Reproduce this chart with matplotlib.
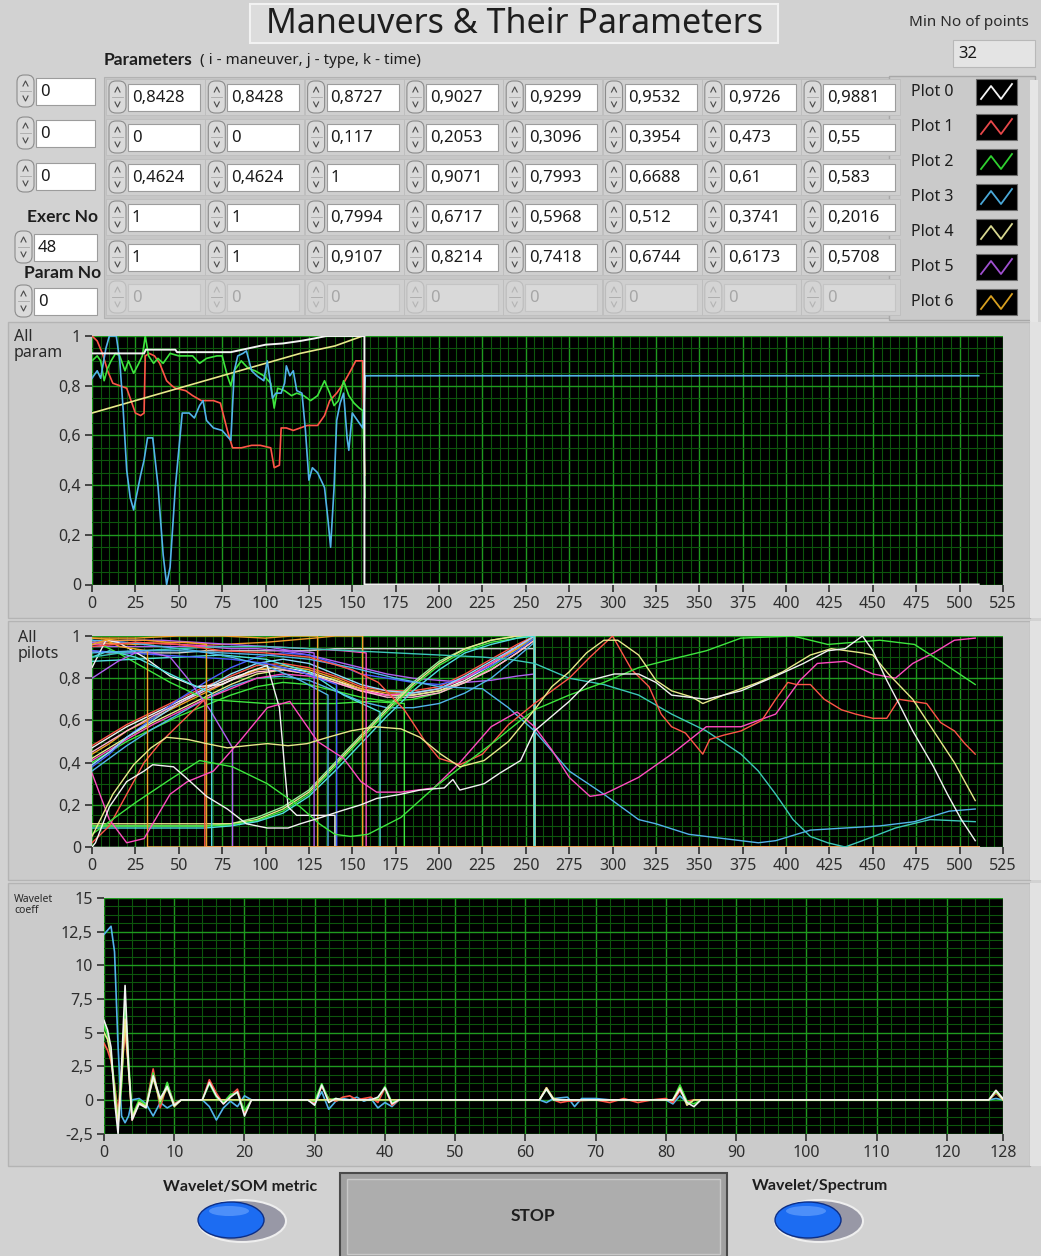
import matplotlib
matplotlib.use("Agg")
import matplotlib.pyplot as plt
from matplotlib.patches import Rectangle, FancyBboxPatch, Ellipse
from matplotlib.ticker import MultipleLocator, FixedLocator, FuncFormatter

W, H = 1041, 1256
plt.rcParams['font.family'] = ['Noto Sans', 'DejaVu Sans']
BOLD = dict(family=['Lato', 'DejaVu Sans'], fontweight='bold')

# ---------------- front-panel values ----------------
title_text = "Maneuvers & Their Parameters"
index_values = [0, 0, 0]
exerc_no = 48
param_no = 0
min_points = 32

param_row0 = [0.8428, 0.8428, 0.8727, 0.9027, 0.9299, 0.9532, 0.9726, 0.9881]
param_row1 = [0, 0, 0.117, 0.2053, 0.3096, 0.3954, 0.473, 0.55]
param_row2 = [0.4624, 0.4624, 1, 0.9071, 0.7993, 0.6688, 0.61, 0.583]
param_row3 = [1, 1, 0.7994, 0.6717, 0.5968, 0.512, 0.3741, 0.2016]
param_row4 = [1, 1, 0.9107, 0.8214, 0.7418, 0.6744, 0.6173, 0.5708]
param_row5 = [0, 0, 0, 0, 0, 0, 0, 0]

legend_names = ["Plot 0", "Plot 1", "Plot 2", "Plot 3", "Plot 4", "Plot 5", "Plot 6"]
legend_colors = ["#f4f4f4", "#e8484a", "#2fd02f", "#4aa8d8", "#d8d890", "#a050d0", "#d8a020"]

# ---------------- graph 1: all parameters of one exercise ----------------
p0_t = [0, 30, 31, 48, 49, 80, 90, 100, 110, 120, 128, 135, 156, 157, 157, 511]
p0_v = [0.93, 0.93, 0.945, 0.945, 0.935, 0.935, 0.95, 0.965, 0.97, 0.98, 0.99, 1.0, 1.0, 1.0, 0.0, 0.0]

p1_t = [0, 3, 6, 9, 12, 16, 20, 23, 25, 28, 30, 30.7, 33, 36, 39, 43, 46, 48, 54, 58, 63, 70, 74,
        78, 81, 86, 92, 97, 103, 105, 108, 109, 112, 116, 120, 124, 130, 134, 137, 141, 145, 149,
        152, 156, 157, 157.3]
p1_v = [1.0, 0.98, 0.93, 0.86, 0.81, 0.80, 0.79, 0.73, 0.69, 0.68, 0.69, 0.92, 0.93, 0.92, 0.89,
        0.82, 0.80, 0.79, 0.78, 0.76, 0.74, 0.74, 0.73, 0.62, 0.55, 0.55, 0.56, 0.56, 0.55, 0.47,
        0.48, 0.63, 0.63, 0.62, 0.63, 0.64, 0.64, 0.68, 0.74, 0.77, 0.81, 0.86, 0.90, 0.90, 0.49,
        0.44]

p2_t = [0, 3, 5, 7, 9, 11, 13.6, 16, 19, 21, 24, 27, 29, 30.7, 32.6, 35.5, 38, 41, 45, 50, 54,
        58, 62, 66, 72, 75, 78, 80, 82, 86, 90, 94, 99, 103, 105, 107, 111, 115, 118, 122, 126,
        130, 134, 137, 139.5, 142, 145, 148, 151, 154, 156, 157, 157.3]
p2_v = [0.90, 0.92, 0.90, 0.82, 0.87, 0.90, 0.93, 0.92, 0.86, 0.90, 0.85, 0.89, 0.92, 1.0, 0.92,
        0.89, 0.91, 0.89, 0.93, 0.92, 0.92, 0.92, 0.89, 0.91, 0.92, 0.92, 0.84, 0.80, 0.86, 0.90,
        0.87, 0.86, 0.84, 0.81, 0.71, 0.79, 0.78, 0.76, 0.77, 0.76, 0.74, 0.76, 0.82, 0.77, 0.72,
        0.74, 0.82, 0.76, 0.73, 0.71, 0.70, 0.48, 0.35]

p3_t = [0, 3, 5, 8, 10, 14, 16, 18, 20, 22, 24, 26, 28, 30, 32, 35, 38, 41, 43, 45, 48, 52, 56,
        59, 62, 64, 66, 70, 75, 80, 82, 84, 87, 89, 92, 95, 99, 101, 104, 106, 109, 111, 112,
        114, 116, 118, 121, 123, 125, 127, 130, 134, 136, 137.5, 139.5, 141, 143, 145, 147, 148,
        150, 153, 156, 157, 157.5, 511]
p3_v = [0.83, 0.86, 0.83, 0.95, 1.0, 1.0, 0.90, 0.70, 0.46, 0.35, 0.30, 0.37, 0.44, 0.50, 0.59,
        0.59, 0.40, 0.12, 0.0, 0.07, 0.39, 0.69, 0.69, 0.67, 0.72, 0.74, 0.66, 0.63, 0.62, 0.58,
        0.86, 0.92, 0.93, 0.94, 0.86, 0.84, 0.82, 0.90, 0.75, 0.77, 0.77, 0.81, 0.88, 0.84, 0.86,
        0.78, 0.77, 0.62, 0.42, 0.47, 0.45, 0.39, 0.26, 0.15, 0.39, 0.66, 0.73, 0.77, 0.59, 0.54,
        0.69, 0.66, 0.63, 0.75, 0.84, 0.84]

p4_t = [0, 20, 40, 60, 80, 100, 120, 140, 156]
p4_v = [0.69, 0.73, 0.77, 0.81, 0.85, 0.89, 0.93, 0.96, 1.0]

# ---------------- graph 2: all pilots ----------------
# rows of the pilot array are zero padded up to the longest record (512 samples)
n_last = 511

# pilots with a 256-sample manoeuvre: rise, plateau and final climb
t_full = [0, 10, 20, 35, 50, 65, 80, 95, 110, 125, 140, 155, 170, 185, 200, 215, 230, 245, 255]
pilot_a1 = [0.47, 0.52, 0.57, 0.63, 0.69, 0.75, 0.80, 0.84, 0.85, 0.83, 0.79, 0.75, 0.72, 0.72, 0.74, 0.79, 0.86, 0.95, 1.00]
pilot_a2 = [0.48, 0.53, 0.58, 0.64, 0.70, 0.76, 0.81, 0.86, 0.87, 0.85, 0.81, 0.76, 0.74, 0.74, 0.76, 0.82, 0.89, 0.96, 1.00]
pilot_a3 = [0.40, 0.45, 0.50, 0.56, 0.62, 0.67, 0.72, 0.76, 0.78, 0.77, 0.74, 0.71, 0.69, 0.70, 0.73, 0.78, 0.85, 0.94, 0.99]
pilot_a4 = [0.36, 0.42, 0.48, 0.56, 0.63, 0.70, 0.76, 0.80, 0.81, 0.79, 0.74, 0.69, 0.66, 0.66, 0.68, 0.73, 0.80, 0.90, 0.97]
pilot_a5 = [0.42, 0.47, 0.52, 0.59, 0.65, 0.71, 0.77, 0.82, 0.84, 0.82, 0.79, 0.74, 0.72, 0.72, 0.74, 0.78, 0.84, 0.92, 0.98]
pilot_a6 = [0.44, 0.49, 0.55, 0.61, 0.67, 0.73, 0.79, 0.84, 0.86, 0.84, 0.80, 0.75, 0.73, 0.73, 0.75, 0.80, 0.87, 0.94, 1.00]
pilot_a7 = [0.38, 0.44, 0.52, 0.61, 0.70, 0.78, 0.85, 0.90, 0.92, 0.91, 0.87, 0.82, 0.80, 0.78, 0.77, 0.80, 0.86, 0.93, 0.99]
pilot_a8 = [0.41, 0.46, 0.51, 0.58, 0.64, 0.70, 0.75, 0.80, 0.82, 0.81, 0.78, 0.74, 0.72, 0.73, 0.75, 0.80, 0.87, 0.95, 1.00]
pilot_a9 = [0.39, 0.45, 0.52, 0.60, 0.68, 0.75, 0.82, 0.87, 0.89, 0.87, 0.82, 0.77, 0.74, 0.73, 0.75, 0.81, 0.88, 0.95, 1.00]
pilot_a10 = [0.45, 0.50, 0.55, 0.62, 0.68, 0.74, 0.79, 0.83, 0.84, 0.82, 0.78, 0.74, 0.71, 0.71, 0.73, 0.78, 0.84, 0.92, 0.98]
# late-climb pilots (flat start then S-shaped climb)
pilot_c1 = [0.10, 0.10, 0.10, 0.10, 0.10, 0.10, 0.105, 0.125, 0.17, 0.25, 0.38, 0.51, 0.64, 0.76, 0.86, 0.93, 0.97, 0.99, 1.0]
pilot_c2 = [0.09, 0.09, 0.09, 0.09, 0.09, 0.09, 0.10, 0.12, 0.16, 0.24, 0.36, 0.49, 0.62, 0.74, 0.84, 0.92, 0.96, 0.99, 1.0]
pilot_c3 = [0.11, 0.11, 0.11, 0.11, 0.11, 0.11, 0.11, 0.13, 0.18, 0.26, 0.39, 0.52, 0.65, 0.77, 0.87, 0.94, 0.98, 1.0, 1.0]
pilot_c4 = [0.10, 0.10, 0.10, 0.10, 0.10, 0.10, 0.11, 0.14, 0.19, 0.27, 0.40, 0.53, 0.66, 0.78, 0.88, 0.94, 0.98, 1.0, 1.0]
pilot_w255 = [0.93, 0.92, 0.92, 0.92, 0.92, 0.93, 0.93, 0.93, 0.93, 0.93, 0.94, 0.94, 0.94, 0.94, 0.94, 0.94, 0.94, 0.94, 0.94]
pilot_p255 = [0.95, 0.95, 0.95, 0.95, 0.95, 0.95, 0.94, 0.94, 0.93, 0.91, 0.88, 0.85, 0.82, 0.80, 0.79, 0.78, 0.79, 0.81, 0.82]

# short records
s_orange32_t = [0, 8, 16, 24, 32]
s_orange32_v = [0.96, 0.98, 0.95, 0.94, 0.93]
s_red65_t = [0, 10, 20, 30, 40, 50, 65]
s_red65_v = [0.02, 0.10, 0.25, 0.40, 0.50, 0.58, 0.70]
s_orange66_t = [0, 15, 30, 45, 55, 66]
s_orange66_v = [0.99, 0.98, 0.98, 0.97, 0.97, 0.96]
s_cyan69_t = [0, 10, 25, 40, 55, 69]
s_cyan69_v = [0.90, 0.93, 0.90, 0.84, 0.78, 0.73]
s_mag81_t = [0, 15, 25, 30, 45, 55, 68, 81]
s_mag81_v = [0.80, 0.88, 0.92, 0.93, 0.90, 0.80, 0.65, 0.47]
s_white140_t = [0, 8, 15, 30, 45, 60, 75, 90, 101, 108, 113, 118, 140]
s_white140_v = [0.85, 0.98, 0.97, 0.90, 0.81, 0.76, 0.77, 0.83, 0.86, 0.66, 0.19, 0.15, 0.15]
s_violet128_t = [0, 20, 40, 60, 80, 100, 115, 128]
s_violet128_v = [0.97, 0.98, 0.98, 0.97, 0.96, 0.95, 0.93, 0.92]
s_orange130_t = [0, 25, 50, 75, 100, 115, 130]
s_orange130_v = [0.99, 0.99, 1.0, 1.0, 0.99, 1.0, 1.0]
s_cyan136_t = [0, 20, 40, 60, 80, 100, 120, 136]
s_cyan136_v = [0.98, 0.97, 0.95, 0.93, 0.90, 0.86, 0.79, 0.72]
s_blue141_t = [0, 20, 40, 60, 80, 100, 120, 141]
s_blue141_v = [0.93, 0.92, 0.91, 0.90, 0.89, 0.87, 0.83, 0.77]
s_orange156_t = [0, 25, 50, 75, 100, 128, 140, 156]
s_orange156_v = [0.97, 0.96, 0.97, 0.96, 0.97, 0.99, 1.0, 1.0]
s_mag158_t = [0, 25, 50, 75, 100, 125, 145, 158]
s_mag158_v = [0.96, 0.97, 0.96, 0.95, 0.95, 0.94, 0.93, 0.92]
s_cyan166_t = [0, 25, 50, 75, 100, 125, 145, 166]
s_cyan166_v = [0.88, 0.89, 0.90, 0.91, 0.89, 0.83, 0.72, 0.64]
s_green180_t = [0, 15, 30, 45, 66, 100, 140, 160, 180]
s_green180_v = [0.98, 0.92, 0.85, 0.78, 0.70, 0.68, 0.68, 0.69, 0.68]
# an empty record: all zeros
empty_t = [0, 511]
empty_v = [0.0, 0.0]

# full-length records (512 samples)
l_white_t = [0, 2, 10, 20, 30, 35, 47, 54, 66, 78, 89, 101, 113, 120, 132, 143, 155, 164, 178, 189,
             203, 208, 212, 226, 235, 247, 255, 275, 287, 301, 315, 325, 334, 344, 354, 374, 394,
             410, 424, 434, 444, 450, 458, 465, 473, 485, 493, 501, 509]
l_white_v = [0.0, 0.02, 0.19, 0.31, 0.36, 0.39, 0.38, 0.33, 0.24, 0.18, 0.11, 0.09, 0.09, 0.11,
             0.14, 0.17, 0.20, 0.23, 0.25, 0.27, 0.28, 0.32, 0.27, 0.30, 0.35, 0.41, 0.55, 0.69,
             0.79, 0.82, 0.82, 0.78, 0.72, 0.71, 0.70, 0.74, 0.81, 0.87, 0.93, 0.94, 1.0, 0.93,
             0.79, 0.68, 0.55, 0.38, 0.25, 0.13, 0.03]
l_yellow_t = [0, 12, 24, 34, 43, 55, 66, 78, 89, 101, 113, 124, 136, 149, 163, 178, 189, 201, 212,
              226, 240, 255, 265, 275, 285, 295, 303, 315, 325, 334, 346, 352, 364, 384, 398, 414,
              426, 444, 450, 459, 473, 485, 497, 509]
l_yellow_v = [0.05, 0.25, 0.39, 0.47, 0.52, 0.51, 0.49, 0.47, 0.48, 0.49, 0.48, 0.49, 0.52, 0.55,
              0.57, 0.56, 0.52, 0.44, 0.38, 0.41, 0.50, 0.65, 0.76, 0.83, 0.92, 0.98, 0.98, 0.91,
              0.79, 0.74, 0.71, 0.68, 0.72, 0.78, 0.83, 0.91, 0.94, 0.92, 0.91, 0.82, 0.70, 0.55,
              0.40, 0.22]
l_green_t = [0, 10, 25, 45, 62, 81, 101, 120, 131, 140, 149, 159, 178, 197, 216, 232, 247, 255,
             275, 295, 315, 334, 354, 374, 404, 424, 454, 474, 489, 509]
l_green_v = [0.06, 0.12, 0.21, 0.32, 0.41, 0.38, 0.30, 0.19, 0.11, 0.06, 0.05, 0.06, 0.14, 0.28,
             0.40, 0.50, 0.60, 0.65, 0.72, 0.78, 0.85, 0.89, 0.93, 0.99, 1.0, 0.96, 0.98, 0.96,
             0.88, 0.77]
l_magenta_t = [0, 10, 20, 30, 45, 55, 70, 85, 101, 114, 130, 145, 155, 164, 178, 197, 212, 230,
               245, 255, 265, 275, 287, 295, 315, 334, 354, 374, 394, 408, 418, 434, 450, 463,
               473, 485, 497, 509]
l_magenta_v = [0.35, 0.13, 0.02, 0.04, 0.25, 0.31, 0.36, 0.50, 0.66, 0.69, 0.50, 0.42, 0.31,
               0.26, 0.26, 0.28, 0.40, 0.57, 0.64, 0.57, 0.46, 0.33, 0.24, 0.25, 0.33, 0.44,
               0.57, 0.57, 0.63, 0.79, 0.87, 0.88, 0.82, 0.80, 0.87, 0.92, 0.98, 0.99]
l_red_t = [0, 25, 50, 75, 100, 125, 150, 165, 180, 192, 200, 212, 225, 240, 255, 275, 287, 300,
           311, 321, 328, 334, 342, 352, 356, 364, 374, 386, 394, 401, 406, 414, 422, 432, 440,
           450, 458, 465, 473, 481, 489, 497, 503, 509]
l_red_v = [0.95, 0.97, 0.96, 0.93, 0.92, 0.90, 0.84, 0.78, 0.65, 0.50, 0.42, 0.39, 0.44, 0.58,
           0.68, 0.80, 0.90, 1.0, 0.84, 0.76, 0.63, 0.57, 0.54, 0.44, 0.51, 0.53, 0.55, 0.60,
           0.70, 0.78, 0.77, 0.77, 0.70, 0.65, 0.63, 0.61, 0.61, 0.70, 0.69, 0.68, 0.59, 0.55,
           0.49, 0.44]
l_teal_t = [0, 25, 50, 75, 100, 125, 150, 175, 200, 225, 240, 255, 275, 295, 315, 334, 354, 374,
            384, 394, 404, 414, 424, 434, 444, 463, 483, 509]
l_teal_v = [0.90, 0.93, 0.94, 0.95, 0.95, 0.94, 0.93, 0.92, 0.91, 0.90, 0.89, 0.87, 0.80, 0.77,
            0.72, 0.63, 0.55, 0.44, 0.36, 0.25, 0.13, 0.05, 0.02, 0.0, 0.03, 0.09, 0.13, 0.12]
l_sky_t = [0, 25, 50, 75, 100, 125, 150, 175, 200, 225, 240, 255, 275, 295, 315, 325, 344, 364,
           384, 394, 414, 434, 454, 474, 494, 509]
l_sky_v = [0.92, 0.93, 0.93, 0.92, 0.91, 0.89, 0.85, 0.80, 0.76, 0.75, 0.66, 0.55, 0.36, 0.25,
           0.13, 0.11, 0.06, 0.04, 0.02, 0.03, 0.08, 0.09, 0.10, 0.12, 0.17, 0.18]

# ---------------- graph 3: wavelet coefficients ----------------
wv_cyan_x = [0, 1, 1.5, 2, 2.5, 3, 3.5, 4, 5, 6, 7, 8, 9, 10, 11, 14, 15, 16, 17, 18, 19, 20, 21,
             29, 30, 31, 32, 33, 34, 35, 36, 37, 38, 39, 40, 41, 42, 62, 63, 64, 66, 67, 68, 70,
             72, 80, 81, 82, 83, 84, 126, 127, 128]
wv_cyan_y = [12.3, 12.9, 11.0, 4.0, -1.2, -1.7, -1.2, 0.0, 0.1, -0.3, -1.2, -0.2, -0.6, -0.3,
             0.0, 0.0, -0.5, -1.5, -0.6, -0.1, -0.5, 0.3, 0.0, 0.0, -0.3, 0.6, -0.7, -0.1, 0.1,
             0.0, 0.2, -0.1, 0.1, -0.6, -0.2, -0.5, 0.0, 0.0, -0.2, 0.1, 0.2, -0.5, 0.1, 0.1,
             0.0, 0.0, -0.3, 0.3, -0.2, 0.0, 0.0, 0.1, 0.0]
wv_red_x = [0, 0.5, 1, 1.5, 2, 2.5, 3, 3.5, 4, 5, 6, 7, 8, 9, 10, 11, 14, 15, 16, 17, 18, 19, 20,
            21, 29, 30, 31, 32, 33, 34, 35, 36, 37, 38, 39, 40, 41, 42, 62, 63, 64, 65, 66, 70,
            72, 74, 76, 78, 80, 81, 82, 83, 84, 126, 127, 128]
wv_red_y = [4.2, 3.7, 2.9, 1.2, -1.0, 2.0, 5.0, 2.4, -1.5, -0.2, -0.4, 2.3, -0.6, 1.2, -0.3,
            0.0, 0.0, 1.5, 0.5, -0.3, 0.3, 0.8, -1.0, 0.0, 0.0, -0.2, 1.0, 0.1, -0.1, 0.2, 0.3,
            0.0, 0.1, 0.2, -0.2, 0.9, -0.4, 0.0, 0.0, 0.9, 0.0, -0.2, -0.1, 0.0, -0.2, 0.1,
            -0.2, 0.0, 0.1, -0.2, 0.7, -0.1, 0.0, 0.0, 0.5, 0.0]
wv_green_x = [0, 0.5, 1, 1.5, 2, 2.5, 3, 3.5, 4, 5, 6, 7, 8, 9, 10, 11, 14, 15, 16, 17, 18, 19,
              20, 21, 29, 30, 31, 32, 33, 34, 38, 39, 40, 41, 42, 62, 63, 64, 81, 82, 83, 84, 85,
              126, 127, 128]
wv_green_y = [5.6, 4.8, 3.5, 1.0, -1.6, 1.0, 7.3, 3.0, -1.2, 0.0, -0.4, 2.0, -0.3, 1.3, -0.4,
              0.0, 0.0, 1.2, 0.2, -0.2, 0.4, 0.5, -0.8, 0.0, 0.0, -0.1, 1.2, 0.0, 0.1, 0.0, 0.0,
              0.1, 1.0, -0.2, 0.0, 0.0, 0.8, 0.0, 0.0, 1.1, -0.1, -0.3, 0.0, 0.0, 0.6, 0.0]
wv_yellow_x = [0, 0.5, 1, 1.5, 2, 2.5, 3, 3.5, 4, 5, 6, 7, 8, 9, 10, 11, 62, 63, 64, 65, 81, 82,
               83, 84, 126, 127, 128]
wv_yellow_y = [5.0, 4.5, 3.2, 0.6, -1.8, 1.5, 6.0, 2.2, -1.3, -0.2, -0.5, 1.6, -0.1, 0.9, -0.5,
               0.0, 0.0, 0.9, 0.1, 0.0, 0.0, 0.9, -0.4, 0.0, 0.0, 0.7, 0.0]
wv_white_x = [0, 0.5, 1, 1.5, 2, 2.5, 3, 3.5, 4, 5, 6, 7, 8, 9, 10, 11, 14, 15, 16, 17, 18, 19,
              20, 21, 29, 30, 31, 32, 33, 34, 38, 39, 40, 41, 42, 62, 63, 64, 81, 82, 83, 84, 85,
              126, 127, 128]
wv_white_y = [5.9, 5.2, 3.9, 0.0, -2.5, 2.5, 8.5, 2.5, -1.5, -0.3, -0.6, 1.8, 0.1, 1.0, -0.4,
              0.0, 0.0, 1.3, 0.3, -0.3, 0.2, 0.6, -1.2, 0.0, 0.0, -0.4, 1.1, -0.2, 0.1, 0.0, 0.0,
              0.2, 0.9, -0.3, 0.0, 0.0, 0.8, 0.0, 0.0, 0.8, -0.2, -0.5, 0.0, 0.0, 0.7, 0.1]

# ---------------- colours ----------------
BG = '#d2d2d2'
C_WHITE = '#f2f2f2'
C_RED = '#ff5548'
C_GREEN = '#3ee63e'
C_LGREEN = '#96f096'
C_SKY = '#52b4ea'
C_CYAN = '#50e0e0'
C_TEAL = '#3cc8b8'
C_BLUE = '#4a5cff'
C_YELLOW = '#e8e88a'
C_ORANGE = '#f0a028'
C_MAGENTA = '#ff4cc0'
C_VIOLET = '#b060f0'
C_PINK = '#ffb0d0'

fig = plt.figure(figsize=(W / 100, H / 100), dpi=100, facecolor=BG)
ov = fig.add_axes([0, 0, 1, 1])
ov.set_xlim(0, W)
ov.set_ylim(H, 0)
ov.axis('off')
ov.set_zorder(0)


def box(x0, y0, x1, y1, fc, ec='none', lw=0.0, z=1, r=0):
    if r:
        p = FancyBboxPatch((x0, y0), x1 - x0, y1 - y0,
                           boxstyle=f"round,pad=0,rounding_size={r}",
                           fc=fc, ec=ec, lw=lw, zorder=z)
    else:
        p = Rectangle((x0, y0), x1 - x0, y1 - y0, fc=fc, ec=ec, lw=lw, zorder=z)
    ov.add_patch(p)


def fmt_num(v):
    return f"{v:.6g}".replace('.', ',')


def spinner(x, yc, enabled=True, h=32):
    w = 17
    box(x, yc - h / 2, x + w, yc + h / 2, fc='#dadada' if enabled else '#d4d4d4',
        ec='#8c8c8c' if enabled else '#bcbcbc', lw=0.8, z=3, r=7)
    col = '#4a4a4a' if enabled else '#b4b4b4'
    ov.plot([x + 6, x + 8.5, x + 11], [yc - 5, yc - 10, yc - 5], color=col, lw=0.8, zorder=4)
    ov.plot([x + 6, x + 8.5, x + 11], [yc + 5, yc + 10, yc + 5], color=col, lw=0.8, zorder=4)
    ov.plot([x + 3, x + w - 3], [yc, yc], color='#a8a8a8', lw=0.6, zorder=4)


def numeric(x_spin, yc, value, box_w, enabled=True):
    spinner(x_spin, yc, enabled)
    bx = x_spin + 19
    box(bx, yc - 13.5, bx + box_w, yc + 13.5, fc='white' if enabled else '#d9d9d9',
        ec='#9c9c9c' if enabled else '#c4c4c4', lw=0.8, z=3)
    ov.text(bx + 4, yc + 1, fmt_num(value), fontsize=12,
            color='#1a1a1a' if enabled else '#a6a6a6', va='center', ha='left', zorder=5)


# ---------------- title and header controls ----------------
box(250, 4, 778, 43, fc='#dcdcdc', ec='#f2f2f2', lw=1.5, z=2)
ov.text(514, 24, title_text, fontsize=24.5, color='#1e1e1e', ha='center', va='center', zorder=3)

ov.text(969, 22, "Min No of points", fontsize=11, color='#2a2a2a', ha='center', va='center')
box(953, 40, 1035, 67, fc='#e4e4e4', ec='#b8b8b8', lw=0.8, z=2)
ov.text(958, 54, str(min_points), fontsize=12, color='#1a1a1a', ha='left', va='center', zorder=3)

ov.text(104, 60, "Parameters", fontsize=12.5, color='#1e1e1e', ha='left', va='center', **BOLD)
ov.text(200, 60, "( i - maneuver, j - type, k - time)", fontsize=11, color='#1e1e1e',
        ha='left', va='center')

# index controls on the left
for yc, val in zip([91, 133, 176], index_values):
    numeric(17, yc, val, 59)
ov.text(27, 217, "Exerc No", fontsize=12.5, color='#1e1e1e', ha='left', va='center', **BOLD)
numeric(15, 247, exerc_no, 63)
ov.text(24, 273, "Param No", fontsize=12.5, color='#1e1e1e', ha='left', va='center', **BOLD)
numeric(15, 301, param_no, 63)

# 2D array of parameters
box(104, 77, 889, 318, fc='#c6c6c6', ec='#b2b2b2', lw=0.8, z=1)
param_rows = [param_row0, param_row1, param_row2, param_row3, param_row4, param_row5]
for r, row in enumerate(param_rows):
    yc = 97 + 40 * r
    enabled = r < 5
    for c, val in enumerate(row):
        bl = 129 + 99.3 * c
        box(bl - 23, yc - 18, bl + 76, yc + 18, fc='#cfcfcf', ec='#bdbdbd', lw=0.6, z=2)
        numeric(bl - 20, yc, val, 72, enabled)

# plot legend
box(889, 76, 1035, 320, fc='#cacaca', ec='#a8a8a8', lw=1.0, z=1)
box(1030, 80, 1038, 322, fc='#e6e6e6', z=1)
for i, (name, col) in enumerate(zip(legend_names, legend_colors)):
    yc = 92 + 35 * i
    ov.text(911, yc, name, fontsize=11.5, color='#1e1e1e', ha='left', va='center', zorder=3)
    box(976, yc - 13, 1017, yc + 13, fc='black', ec='#6a6a6a', lw=0.8, z=3)
    ov.plot([981, 991, 1001, 1012], [yc + 7, yc - 6, yc + 7, yc - 8], color=col, lw=1.3, zorder=4)

# graph panels
for (y0, y1) in [(322, 618), (621, 880), (883, 1166)]:
    box(8, y0, 1030, y1, fc='#cbcbcb', ec='#b4b4b4', lw=1.0, z=1)
    box(1030, y0, 1041, y1, fc='#e2e2e2', z=1)

ov.text(14, 345, "All\nparam", fontsize=11.5, color='#2a2a2a', ha='left', va='center',
        linespacing=1.0, zorder=3)
ov.text(18, 646, "All\npilots", fontsize=11.5, color='#2a2a2a', ha='left', va='center',
        linespacing=1.0, zorder=3)
ov.text(14, 905, "Wavelet\ncoeff", fontsize=7.5, color='#2a2a2a', ha='left', va='center',
        linespacing=1.1, zorder=3)

# bottom controls
ov.text(240, 1187, "Wavelet/SOM metric", fontsize=11.5, color='#1e1e1e',
        ha='center', va='center', **BOLD)
ov.text(820, 1186, "Wavelet/Spectrum", fontsize=11.5, color='#1e1e1e',
        ha='center', va='center', **BOLD)
for cx in (231, 808):
    ov.add_patch(Ellipse((cx + 11, 1221), 88, 42, fc='#9898a6', ec='#eeeeee', lw=1.5, zorder=2))
    ov.add_patch(Ellipse((cx, 1220), 66, 36, fc='#1c6cf2', ec='#0c2e86', lw=1.0, zorder=3))
    ov.add_patch(Ellipse((cx - 2, 1211), 40, 10, fc='#6fa8ff', ec='none', alpha=0.6, zorder=4))

box(340, 1173, 727, 1260, fc='#a0a0a0', ec='#4a4a4a', lw=1.5, z=2)
box(347, 1179, 720, 1254, fc='#adadad', ec='#c8c8c8', lw=1.0, z=3)
ov.text(533, 1216, "STOP", fontsize=12.5, color='#1e1e1e', ha='center',
        va='center', zorder=4, **BOLD)


# ---------------- graphs ----------------
def px_axes(x0, y0, x1, y1):
    ax = fig.add_axes([x0 / W, 1 - y1 / H, (x1 - x0) / W, (y1 - y0) / H])
    ax.set_zorder(2)
    return ax


comma = FuncFormatter(lambda v, pos: f"{v:.10g}".replace('.', ','))


def style_graph(ax, xlim, ylim, xmaj, xmin, ymaj, ymin, xticks=None):
    ax.set_facecolor('black')
    ax.set_xlim(*xlim)
    ax.set_ylim(*ylim)
    if xticks is None:
        ax.xaxis.set_major_locator(MultipleLocator(xmaj))
    else:
        ax.xaxis.set_major_locator(FixedLocator(xticks))
    ax.xaxis.set_minor_locator(MultipleLocator(xmin))
    ax.yaxis.set_major_locator(MultipleLocator(ymaj))
    ax.yaxis.set_minor_locator(MultipleLocator(ymin))
    ax.yaxis.set_major_formatter(comma)
    ax.grid(which='minor', color='#0d560d', lw=0.8)
    ax.grid(which='major', color='#1f9a1f', lw=1.0)
    ax.set_axisbelow(True)
    for s in ax.spines.values():
        s.set_visible(False)
    ax.tick_params(which='minor', length=0)
    ax.tick_params(which='major', direction='out', length=5, width=1.3, color='#3a3a3a',
                   labelsize=11.5, labelcolor='#2e2e2e', pad=3)


def padded(t, v):
    if t[-1] < n_last:
        return list(t) + [t[-1], n_last], list(v) + [0.0, 0.0]
    return t, v


# graph 1
ax1 = px_axes(92, 336, 1003, 584.5)
style_graph(ax1, (0, 525), (0, 1), 25, 5, 0.2, 0.05)
ax1.plot(p1_t, p1_v, color=C_RED, lw=1.2)
ax1.plot(p2_t, p2_v, color=C_GREEN, lw=1.2)
ax1.plot(p4_t, p4_v, color=C_YELLOW, lw=1.2)
ax1.plot(p3_t, p3_v, color=C_SKY, lw=1.2)
ax1.plot(p0_t, p0_v, color=C_WHITE, lw=1.4)

# graph 2
ax2 = px_axes(92, 636, 1003, 847)
style_graph(ax2, (0, 525), (0, 1), 25, 5, 0.2, 0.05)

full_runs = [
    (pilot_w255, '#cfcfcf'), (pilot_p255, C_VIOLET),
    (pilot_a1, C_WHITE), (pilot_a2, C_RED), (pilot_a3, C_GREEN), (pilot_a4, C_SKY),
    (pilot_a5, C_YELLOW), (pilot_a6, C_ORANGE), (pilot_a7, C_BLUE), (pilot_a8, C_MAGENTA),
    (pilot_a9, '#8fd8ff'), (pilot_a10, C_PINK),
    (pilot_c4, C_LGREEN), (pilot_c3, C_YELLOW), (pilot_c1, C_GREEN), (pilot_c2, C_CYAN),
]
short_runs = [
    (s_green180_t, s_green180_v, C_GREEN), (s_cyan166_t, s_cyan166_v, C_CYAN),
    (s_mag158_t, s_mag158_v, C_MAGENTA), (s_orange156_t, s_orange156_v, C_ORANGE),
    (s_blue141_t, s_blue141_v, C_BLUE), (s_cyan136_t, s_cyan136_v, C_SKY),
    (s_orange130_t, s_orange130_v, C_ORANGE), (s_violet128_t, s_violet128_v, C_VIOLET),
    (s_white140_t, s_white140_v, C_WHITE), (s_mag81_t, s_mag81_v, C_VIOLET),
    (s_cyan69_t, s_cyan69_v, C_CYAN), (s_orange66_t, s_orange66_v, C_ORANGE),
    (s_red65_t, s_red65_v, C_RED), (s_orange32_t, s_orange32_v, C_ORANGE),
    (empty_t, empty_v, C_WHITE),
]
long_runs = [
    (l_teal_t, l_teal_v, C_TEAL), (l_sky_t, l_sky_v, C_SKY),
    (l_magenta_t, l_magenta_v, C_MAGENTA), (l_red_t, l_red_v, C_RED),
    (l_green_t, l_green_v, C_GREEN), (l_yellow_t, l_yellow_v, C_YELLOW),
    (l_white_t, l_white_v, C_WHITE),
]
for vals, col in full_runs:
    t, v = padded(t_full, vals)
    ax2.plot(t, v, color=col, lw=1.0)
for t0, v0, col in short_runs:
    t, v = padded(t0, v0)
    ax2.plot(t, v, color=col, lw=1.0)
for t, v, col in long_runs:
    ax2.plot(t, v, color=col, lw=1.0)

# graph 3
ax3 = px_axes(104, 898, 1003, 1133.5)
style_graph(ax3, (0, 128), (-2.5, 15), 10, 2, 2.5, 0.625,
            xticks=[0, 10, 20, 30, 40, 50, 60, 70, 80, 90, 100, 110, 120, 128])
ax3.plot(wv_cyan_x, wv_cyan_y, color=C_SKY, lw=1.2)
ax3.plot(wv_red_x, wv_red_y, color=C_RED, lw=1.2)
ax3.plot(wv_green_x, wv_green_y, color=C_GREEN, lw=1.2)
ax3.plot(wv_yellow_x, wv_yellow_y, color=C_YELLOW, lw=1.2)
ax3.plot(wv_white_x, wv_white_y, color=C_WHITE, lw=1.2)

fig.savefig("out.png", dpi=100, facecolor=BG)
